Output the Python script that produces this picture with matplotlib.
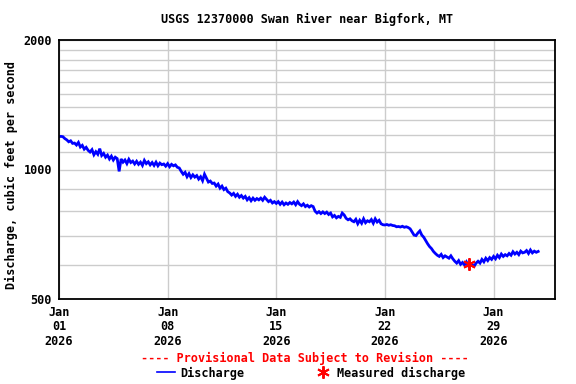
import matplotlib
matplotlib.use("Agg")
import matplotlib.pyplot as plt
from matplotlib.ticker import FixedLocator, NullFormatter
import pandas as pd

# ---- data, 3-hourly discharge, cfs ----
start = "2026-01-01 00:00"
discharge = [
    1192, 1194, 1192, 1180, 1172, 1160, 1166, 1150,   # Jan 1
    1152, 1140, 1156, 1128, 1138, 1115, 1126, 1108,   # Jan 2
    1098, 1112, 1082, 1100, 1085, 1118, 1078, 1090,   # Jan 3
    1068, 1080, 1058, 1074, 1052, 1068, 1060, 990,    # Jan 4
    1058, 1040, 1052, 1032, 1056, 1038, 1046, 1030,   # Jan 5
    1045, 1028, 1040, 1022, 1050, 1032, 1042, 1025,   # Jan 6
    1038, 1022, 1040, 1020, 1035, 1026, 1030, 1018,   # Jan 7
    1032, 1015, 1028, 1020, 1025, 1012, 1008, 990,    # Jan 8
    975, 985, 962, 978, 958, 972, 960, 968,           # Jan 9
    950, 962, 942, 975, 955, 935, 940, 928,           # Jan 10
    930, 915, 925, 905, 915, 898, 905, 888,           # Jan 11
    882, 872, 880, 866, 876, 862, 870, 858,           # Jan 12
    866, 850, 860, 846, 858, 848, 856, 850,           # Jan 13
    858, 848, 862, 852, 842, 848, 836, 842,           # Jan 14
    834, 842, 830, 840, 828, 836, 830, 838,           # Jan 15
    832, 840, 828, 842, 830, 824, 832, 820,           # Jan 16
    826, 818, 824, 820, 800, 792, 798, 790,           # Jan 17
    797, 790, 796, 786, 792, 776, 782, 772,           # Jan 18
    778, 774, 792, 784, 770, 764, 768, 760,           # Jan 19
    756, 766, 748, 762, 750, 768, 752, 760,           # Jan 20
    756, 765, 750, 768, 755, 762, 748, 744,           # Jan 21
    743, 745, 742, 744, 741, 740, 736, 737,           # Jan 22
    735, 738, 734, 736, 733, 728, 716, 704,           # Jan 23
    702, 712, 720, 704, 696, 684, 672, 662,           # Jan 24
    655, 645, 638, 632, 628, 635, 624, 630,           # Jan 25
    626, 622, 630, 620, 612, 606, 614, 602,           # Jan 26
    608, 600, 610, 598, 606, 600, 596, 606,           # Jan 27
    612, 606, 618, 610, 622, 614, 624, 618,           # Jan 28
    628, 620, 632, 624, 636, 628, 634, 630,           # Jan 29
    638, 632, 644, 636, 642, 634, 646, 640,           # Jan 30
    642, 648, 638, 650, 640, 646, 642, 645,           # Jan 31
]
measured_time = ["2026-01-27 09:40"]
measured_value = [603]

x_ticks = ["2026-01-01", "2026-01-08", "2026-01-15", "2026-01-22", "2026-01-29"]
x_tick_labels = ["Jan\n01\n2026", "Jan\n08\n2026", "Jan\n15\n2026", "Jan\n22\n2026", "Jan\n29\n2026"]
y_major = [500, 1000, 2000]
y_minor = [600, 700, 800, 900, 1100, 1200, 1300, 1400, 1500, 1600, 1700, 1800, 1900]
x_range = ["2026-01-01 00:00", "2026-02-01 23:00"]

times = pd.date_range(start, periods=len(discharge), freq="3h")

FONT = "DejaVu Sans Mono"
plt.rcParams["font.family"] = FONT
plt.rcParams["font.weight"] = "bold"

fig = plt.figure(figsize=(5.76, 3.84), dpi=100)
ax = fig.add_axes([59/576, 1-299/384, (555-59)/576, (299-40)/384])

ax.set_yscale("log")
ax.set_ylim(500, 2000)
ax.set_xlim(pd.Timestamp(x_range[0]), pd.Timestamp(x_range[1]))

ax.yaxis.set_major_locator(FixedLocator(y_major))
ax.yaxis.set_minor_locator(FixedLocator(y_minor))
ax.yaxis.set_minor_formatter(NullFormatter())
ax.set_yticklabels([str(v) for v in y_major])
ax.set_xticks([pd.Timestamp(t) for t in x_ticks])
ax.set_xticklabels(x_tick_labels, linespacing=1.15)

ax.grid(True, which="both", axis="y", color="#cccccc", lw=1)
ax.grid(True, which="major", axis="x", color="#cccccc", lw=1)
ax.set_axisbelow(True)
ax.tick_params(which="both", length=0, labelsize=8.5, pad=5)
for lab in ax.get_xticklabels() + ax.get_yticklabels():
    lab.set_fontweight("bold")
for s in ax.spines.values():
    s.set_linewidth(1.3)
    s.set_color("black")

ax.plot(times, discharge, color="#0000ff", lw=2.0, solid_joinstyle="miter")
ax.plot([pd.Timestamp(t) for t in measured_time], measured_value, ls="none",
        marker=(6, 2, 0), ms=9, mew=1.4, color="red", zorder=5)

ax.set_ylabel("Discharge, cubic feet per second", fontsize=8.5, fontweight="bold", labelpad=4)
ax.yaxis.set_label_coords(-0.082, 0.48)
fig.text(307/576, 1-19/384, "USGS 12370000 Swan River near Bigfork, MT",
         ha="center", va="center", fontsize=8.5, fontweight="bold")
fig.text(305/576, 1-358/384, "---- Provisional Data Subject to Revision ----",
         ha="center", va="center", fontsize=8.5, fontweight="bold", color="red")

# legend row
fig.add_artist(plt.Line2D([157/576, 175/576], [1-372/384, 1-372/384], color="#0000ff", lw=1.2))
fig.text(180/576, 1-373/384, "Discharge", ha="left", va="center", fontsize=8.5, fontweight="bold")
fig.add_artist(plt.Line2D([323/576], [1-372/384], marker=(6, 2, 0), ms=9, mew=1.4, color="red", ls="none"))
fig.text(337/576, 1-373/384, "Measured discharge", ha="left", va="center", fontsize=8.5, fontweight="bold")

fig.savefig("out.png", dpi=100)
